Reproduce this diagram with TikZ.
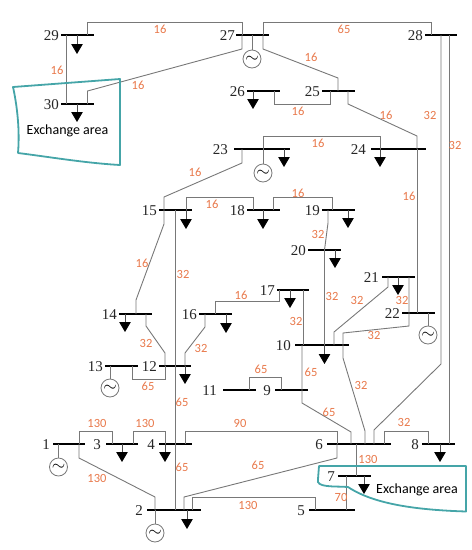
\documentclass[tikz,border=0pt]{standalone}
\usepackage{fontspec}
\setmainfont{Liberation Serif}
\newfontfamily\calfont{Carlito}
\usetikzlibrary{arrows.meta}
\definecolor{wire}{HTML}{787878}
\definecolor{area}{HTML}{45A5A8}
\definecolor{rating}{HTML}{E8784A}
\tikzset{
  busbar/.style={fill=black,draw=none,inner sep=0pt,minimum height=2pt},
  busname/.style={anchor=east,inner sep=0pt,text=black!85,font=\fontsize{15}{16}\selectfont},
  wireline/.style={draw=wire,line width=0.9pt,line join=miter},
  stem/.style={draw=black!70,line width=0.9pt,-{Triangle[width=11.5pt,length=10pt,color=black,fill=black]}},
  gen/.style={circle,draw=wire,line width=0.8pt,fill=white,minimum size=18pt,inner sep=0pt,font=\fontsize{16}{16}\selectfont},
  ratinglabel/.style={text=rating,inner sep=0pt,font=\calfont\fontsize{12.5}{13}\selectfont},
  areabox/.style={draw=area,line width=1.8pt,line join=round},
  areatext/.style={inner sep=0pt,font=\calfont\fontsize{14}{15}\selectfont}
}
\newcounter{elab}
\newcommand\bus[6]{% name x1 x2 y labeltext labelright
  \node[busbar,minimum width={#3-#2}] (b#1) at ({(#2+#3)/2},#4) {};
  \node[busname] (t#1) at (#6,#4+0.5) {#5};
}
\newcommand\rate[3]{\stepcounter{elab}\node[ratinglabel] (e\arabic{elab}) at (#1,#2) {#3};}
\newcommand\loadat[3]{% bus x tipy
  \coordinate (l#1) at (#2,#3);
  \draw[stem] (#2,0 |- b#1) -- (l#1);
}
\newcommand\genat[3]{% bus x y
  \node[gen] (g#1) at (#2,#3) {$\sim$};
  \draw[wireline] (#2,0 |- b#1) -- (g#1);
}
\begin{document}
\begin{tikzpicture}[x=1pt,y=-1pt]
\useasboundingbox (0,0) rectangle (472,550);
\bus{29}{61}{94}{35}{29}{59}
\bus{30}{61}{94}{104}{30}{59}
\bus{27}{236}{269}{35}{27}{235}
\bus{28}{425}{457}{35}{28}{423}
\bus{26}{247}{280}{91}{26}{245}
\bus{25}{322}{355}{91}{25}{320}
\bus{24}{371}{426}{149}{24}{366}
\bus{23}{234}{290}{149}{23}{228}
\bus{15}{159}{192}{210}{15}{157}
\bus{18}{247}{280}{210}{18}{245}
\bus{19}{322}{355}{210}{19}{320}
\bus{20}{308}{341}{250}{20}{306}
\bus{21}{382}{415}{277}{21}{379}
\bus{22}{402}{435}{313}{22}{400}
\bus{17}{277}{309}{290}{17}{275}
\bus{16}{199}{232}{314}{16}{197}
\bus{14}{119}{152}{314}{14}{117}
\bus{12}{159}{191}{366}{12}{157}
\bus{13}{105}{138}{366}{13}{103}
\bus{10}{295}{349}{345}{10}{291}
\bus{11}{223}{256}{390}{11}{217}
\bus{9}{275}{308}{390}{9}{271}
\bus{1}{53}{85}{444}{1}{50}
\bus{3}{106}{138}{444}{3}{101}
\bus{4}{159}{192}{444}{4}{155}
\bus{6}{327}{391}{444}{6}{323}
\bus{8}{422}{455}{444}{8}{419}
\bus{7}{338}{371}{476}{7}{335}
\bus{5}{309}{355}{510}{5}{305}
\bus{2}{147}{201}{510}{2}{143}
\begin{scope}[every path/.style={wireline}]
\draw (87,0 |- b29) -- (87,22) -- (242,22) -- (242,0 |- b27);
\draw (66.5,0 |- b29) -- (66.5,0 |- b30);
\draw (87.5,0 |- b30) -- (87.5,91) -- (242,49) -- (242,0 |- b27);
\draw (263,0 |- b27) -- (263,22) -- (431,22) -- (431,0 |- b28);
\draw (263,0 |- b27) -- (263,49) -- (338,78) -- (338,0 |- b25);
\draw (274,0 |- b26) -- (274,104) -- (330,104) -- (330,0 |- b25);
\draw (348,0 |- b25) -- (348,104) -- (417,136) -- (417,0 |- b24);
\draw (417,0 |- b24) -- (417,0 |- b22);
\draw (449,0 |- b28) -- (449,0 |- b8);
\draw (441,0 |- b28) -- (441,364) -- (374,430) -- (374,0 |- b6);
\draw (263,0 |- b23) -- (263,136) -- (380,136) -- (380,0 |- b24);
\draw (242,0 |- b23) -- (242,163) -- (164,197) -- (164,0 |- b15);
\draw (164,0 |- b15) -- (164,224) -- (136,300) -- (136,0 |- b14);
\draw (186,0 |- b15) -- (186,197) -- (253,197) -- (253,0 |- b18);
\draw (273,0 |- b18) -- (273,197) -- (332,197) -- (332,0 |- b19);
\draw (328,0 |- b19) -- (328,223) -- (324.5,250) -- (324.5,0 |- b20);
\draw (324.5,0 |- b20) -- (324.5,0 |- b10);
\draw (388,0 |- b21) -- (388,287) -- (334,332) -- (334,0 |- b10);
\draw (409,0 |- b21) -- (409,326) -- (343,333) -- (343,0 |- b10);
\draw (343,0 |- b10) -- (343,358) -- (365,431) -- (365,0 |- b6);
\draw (303,0 |- b17) -- (303,0 |- b10);
\draw (302,0 |- b10) -- (302,403) -- (351,432) -- (351,0 |- b6);
\draw (215,0 |- b16) -- (215,301) -- (279,301) -- (279,0 |- b17);
\draw (205,0 |- b16) -- (205,327) -- (185,353) -- (185,0 |- b12);
\draw (175.5,0 |- b15) -- (175.5,0 |- b2);
\draw (146,0 |- b14) -- (146,326) -- (165,353) -- (165,0 |- b12);
\draw (132,0 |- b13) -- (132,379) -- (165,379) -- (165,0 |- b12);
\draw (249,0 |- b11) -- (249,377) -- (281,377) -- (281,0 |- b9);
\draw (79,0 |- b1) -- (79,431) -- (112,431) -- (112,0 |- b3);
\draw (133,0 |- b3) -- (133,431) -- (165,431) -- (165,0 |- b4);
\draw (79,0 |- b1) -- (79,458) -- (155,497) -- (155,0 |- b2);
\draw (185,0 |- b4) -- (185,431) -- (337,431) -- (337,0 |- b6);
\draw (337,0 |- b6) -- (337,458) -- (184,497) -- (184,0 |- b2);
\draw (192,0 |- b2) -- (192,497) -- (315,497) -- (315,0 |- b5);
\draw (346,0 |- b7) -- (346,0 |- b5);
\draw (356,0 |- b6) -- (356,0 |- b7);
\draw (384,0 |- b6) -- (384,431) -- (428,431) -- (428,0 |- b8);
\end{scope}
\loadat{29}{77}{54}
\loadat{30}{77}{122}
\loadat{26}{253}{109}
\loadat{24}{380}{167}
\loadat{23}{284}{167}
\loadat{15}{186}{229}
\loadat{18}{263}{229}
\loadat{19}{348}{228}
\loadat{20}{335}{268}
\loadat{21}{398}{295}
\loadat{17}{290}{308}
\loadat{16}{226}{333}
\loadat{14}{125}{332}
\loadat{12}{185}{384}
\loadat{10}{324.5}{364}
\loadat{3}{122}{462}
\loadat{4}{165}{462}
\loadat{8}{440}{462}
\loadat{7}{364}{494}
\loadat{2}{187}{529}
\genat{27}{252}{59}
\genat{23}{263}{173}
\genat{22}{428}{335}
\genat{13}{110}{388}
\genat{1}{58.5}{467}
\genat{2}{155}{533}
\draw[areabox] (13,87) .. controls (17,105) and (20,130) .. (18,153)
  .. controls (50,157) and (85,163) .. (120,165) -- (120,79) -- cycle;
\draw[areabox] (319,466) -- (466,466) -- (466,511.5)
  .. controls (420,510) and (375,505) .. (348,487)
  .. controls (335,486) and (315,488) .. (318,479) -- cycle;
\node[areatext] (a1) at (67.5,131) {Exchange area};
\node[areatext] (a2) at (417,489.5) {Exchange area};
\rate{160}{29}{16}
\rate{57}{70}{16}
\rate{138}{85}{16}
\rate{344}{29}{65}
\rate{311}{57}{16}
\rate{298}{111}{16}
\rate{386}{115}{16}
\rate{430}{115}{32}
\rate{455}{145}{32}
\rate{318}{143}{16}
\rate{195}{172}{16}
\rate{212}{204}{16}
\rate{298}{193}{16}
\rate{409}{196}{16}
\rate{318}{234}{32}
\rate{332}{296}{32}
\rate{183}{274}{32}
\rate{142}{263}{16}
\rate{241}{295}{16}
\rate{146}{343}{32}
\rate{201}{348}{32}
\rate{357}{300}{32}
\rate{296}{321}{32}
\rate{402}{300}{32}
\rate{374}{335}{32}
\rate{311}{372}{65}
\rate{261}{369}{65}
\rate{148}{386}{65}
\rate{182}{402}{65}
\rate{182}{467}{65}
\rate{97}{423}{130}
\rate{145}{423}{130}
\rate{97}{478}{130}
\rate{240}{423}{90}
\rate{258}{465}{65}
\rate{248}{505}{130}
\rate{368}{459}{130}
\rate{341}{497}{70}
\rate{404}{422}{32}
\rate{329}{412}{65}
\rate{361}{385}{32}
\end{tikzpicture}
\end{document}
